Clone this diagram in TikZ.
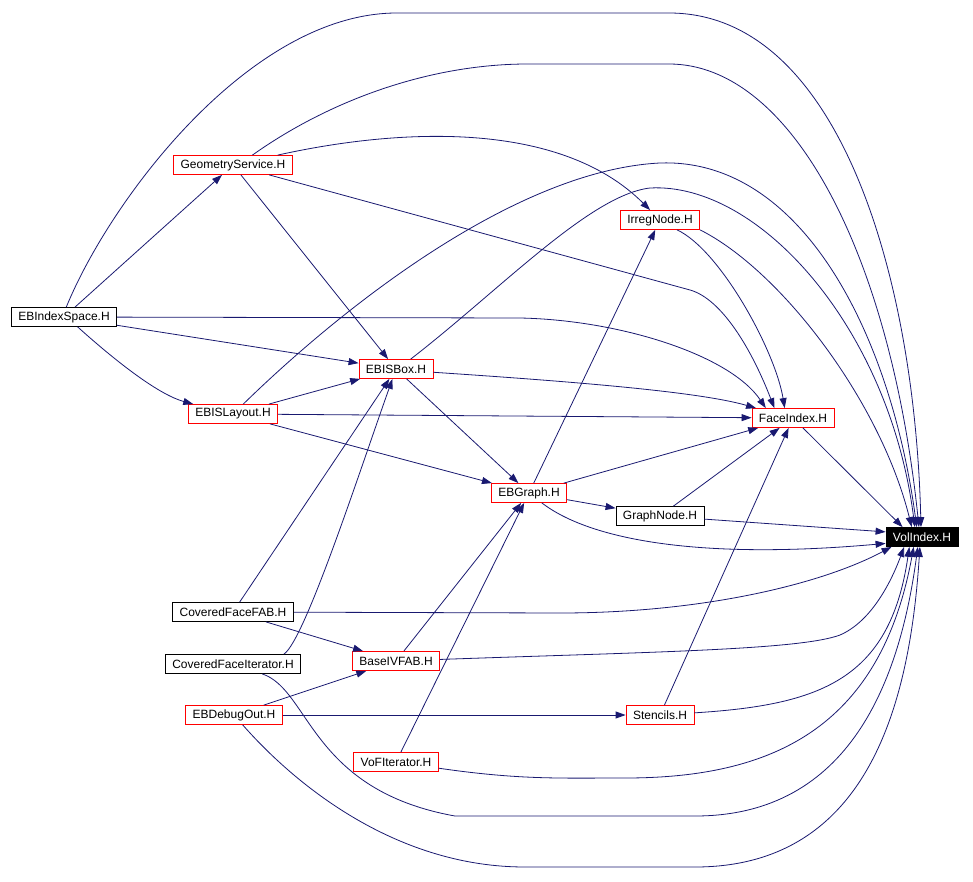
\documentclass[tikz,border=0pt]{standalone}
\usepackage{fontspec}
\setmainfont{Liberation Sans}
\usetikzlibrary{arrows.meta}
\definecolor{incblue}{HTML}{191970}
\tikzset{
  hdr/.style={
    draw=black, line width=0.8pt, fill=white,
    minimum height=19pt, inner ysep=0pt, inner xsep=7pt,
    font=\fontsize{12}{14}\selectfont
  },
  hdrred/.style={hdr, draw=red},
  hdrtop/.style={hdr, fill=black, text=white},
  inc/.style={-{Triangle[length=10pt,width=7pt]}, color=incblue, line width=0.8pt}
}

\begin{document}
\begin{tikzpicture}[x=1pt, y=-1pt]
  \useasboundingbox (0,0) rectangle (973,882);

  \node[hdr]    (isp)   at (64,317)  {EBIndexSpace.H};
  \node[hdrred] (geo)   at (233,165) {GeometryService.H};
  \node[hdrred] (irr)   at (660,220) {IrregNode.H};
  \node[hdrred] (box)   at (396,369) {EBISBox.H};
  \node[hdrred] (lay)   at (233,414) {EBISLayout.H};
  \node[hdrred] (face)  at (793,418) {FaceIndex.H};
  \node[hdrred] (graph) at (529,493) {EBGraph.H};
  \node[hdr]    (gnode) at (660,516) {GraphNode.H};
  \node[hdrtop] (vol)   at (922,537) {VolIndex.H};
  \node[hdr]    (cfab)  at (233,612) {CoveredFaceFAB.H};
  \node[hdr]    (cfit)  at (233,664) {CoveredFaceIterator.H};
  \node[hdrred] (bivf)  at (396,661) {BaseIVFAB.H};
  \node[hdrred] (dbg)   at (234,715) {EBDebugOut.H};
  \node[hdrred] (sten)  at (660,715) {Stencils.H};
  \node[hdrred] (vofit) at (396,762) {VoFIterator.H};

  % EBIndexSpace.H
  \draw[inc] (isp) -- (geo);
  \draw[inc] (isp) -- (box);
  \draw[inc] (isp.324) .. controls (120,365) and (160,395) .. (lay.166);
  \draw[inc] (isp) -- (520,318) .. controls (620,320) and (730,355) .. (face.160);
  \draw[inc] (isp.77) .. controls (110,200) and (250,13) .. (397,13) -- (669,13)
             .. controls (840,13) and (915,280) .. (vol.96);

  % GeometryService.H
  \draw[inc] (geo) -- (box);
  \draw[inc] (geo) .. controls (400,128) and (560,120) .. (irr);
  \draw[inc] (geo) -- (690,290) .. controls (722,299) and (752,350) .. (face.152);
  \draw[inc] (geo.27) .. controls (330,100) and (430,64) .. (528,64) -- (669,64)
             .. controls (790,64) and (890,250) .. (vol.107);

  % IrregNode.H
  \draw[inc] (irr.330) .. controls (720,250) and (775,350) .. (face.130);
  \draw[inc] (irr.south east) .. controls (780,270) and (880,400) .. (vol.136);

  % EBISBox.H
  \draw[inc] (box) -- (graph);
  \draw[inc] (box.355) .. controls (580,382) and (700,392) .. (face.165);
  \draw[inc] (box.34) .. controls (500,290) and (590,195) .. (650,188)
             .. controls (760,182) and (890,330) .. (vol.126);

  % EBISLayout.H
  \draw[inc] (lay) -- (box);
  \draw[inc] (lay) -- (graph);
  \draw[inc] (lay) -- (face);
  \draw[inc] (lay.44) .. controls (350,300) and (520,170) .. (660,163)
             .. controls (800,158) and (890,330) .. (vol.118);

  % FaceIndex.H
  \draw[inc] (face) -- (vol.153);

  % EBGraph.H
  \draw[inc] (graph) -- (irr);
  \draw[inc] (graph) -- (face);
  \draw[inc] (graph) -- (gnode);
  \draw[inc] (graph) .. controls (590,540) and (700,560) .. (vol.190);

  % GraphNode.H
  \draw[inc] (gnode) -- (face);
  \draw[inc] (gnode) -- (vol.172);

  % CoveredFaceFAB.H
  \draw[inc] (cfab) -- (560,613) .. controls (700,613) and (820,585) .. (vol.198);
  \draw[inc] (cfab) -- (box);
  \draw[inc] (cfab) -- (bivf);

  % CoveredFaceIterator.H
  \draw[inc] (cfit.11) .. controls (305,640) and (360,470) .. (box);
  \draw[inc] (cfit) .. controls (310,690) and (310,790) .. (455,816) -- (695,816)
             .. controls (850,816) and (900,680) .. (vol.247);

  % BaseIVFAB.H
  \draw[inc] (bivf) -- (graph);
  \draw[inc] (bivf) .. controls (650,652) and (800,650) .. (840,635)
             .. controls (870,622) and (890,585) .. (vol.209);

  % EBDebugOut.H
  \draw[inc] (dbg) -- (bivf);
  \draw[inc] (dbg) -- (sten);
  \draw[inc] (dbg) .. controls (300,790) and (400,867) .. (525,867) -- (695,867)
             .. controls (870,867) and (910,700) .. (vol.258);

  % Stencils.H
  \draw[inc] (sten) -- (face);
  \draw[inc] (sten) .. controls (820,705) and (890,680) .. (vol.218);

  % VoFIterator.H
  \draw[inc] (vofit) -- (graph);
  \draw[inc] (vofit) .. controls (520,780) and (560,778) .. (625,778)
             .. controls (770,778) and (880,730) .. (vol.230);

\end{tikzpicture}
\end{document}
